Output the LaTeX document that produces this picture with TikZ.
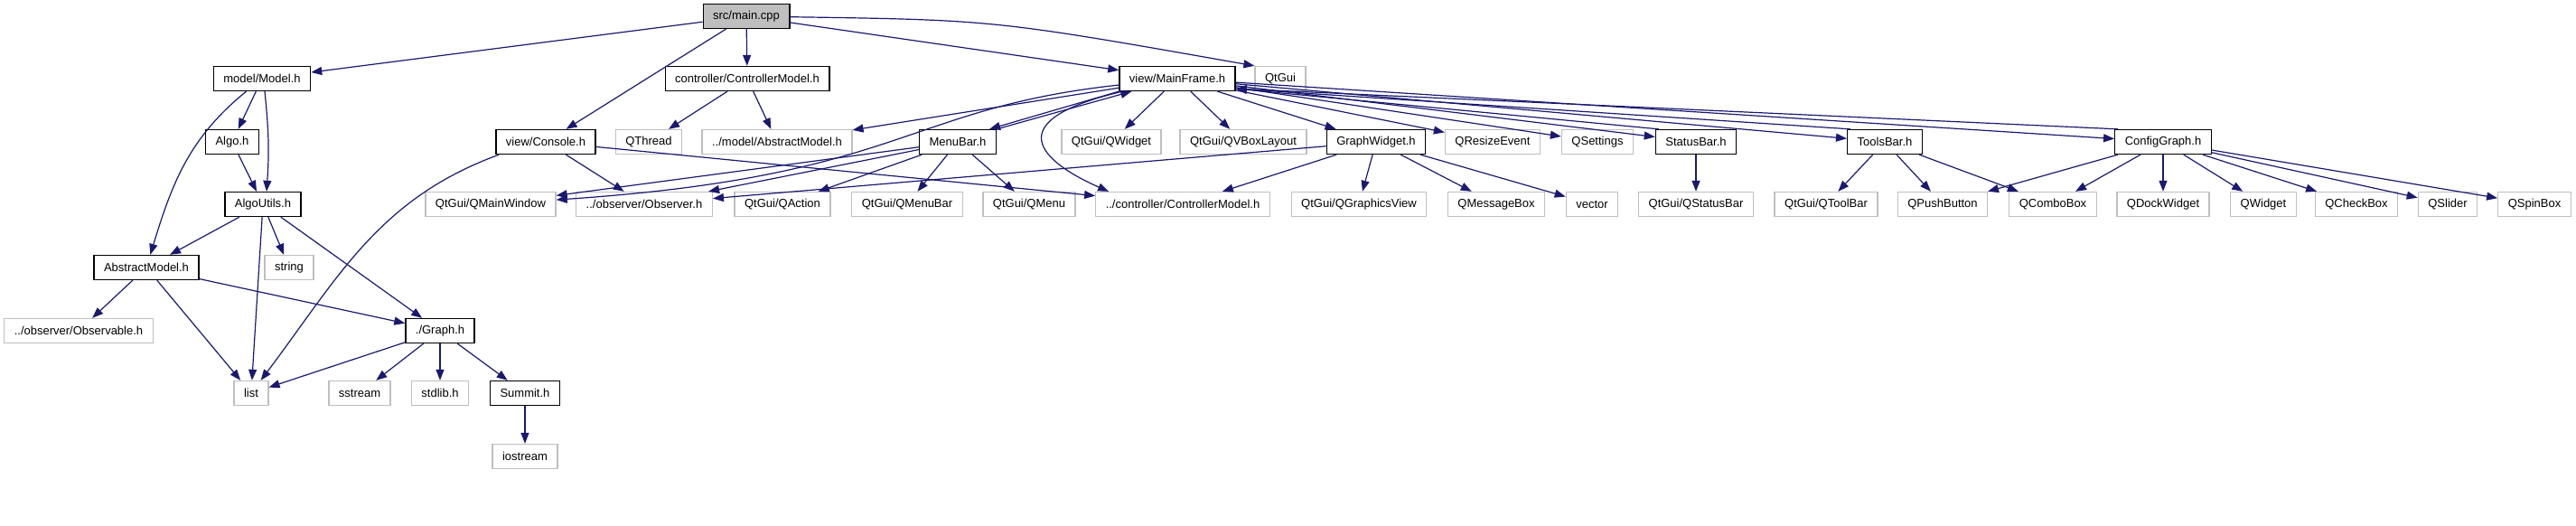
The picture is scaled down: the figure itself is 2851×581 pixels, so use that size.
\documentclass[tikz,border=0pt]{standalone}
\usepackage{fontspec}
\setmainfont{Liberation Sans}
\usetikzlibrary{arrows.meta}
\definecolor{edgeblue}{HTML}{191970}
\definecolor{boxgray}{HTML}{BFBFBF}

\begin{document}
\begin{tikzpicture}[x=1pt,y=1pt,
  hdr/.style={draw=black,line width=1.3pt,inner xsep=11pt,inner ysep=0pt,
    minimum height=27pt,font=\fontsize{13}{15}\selectfont},
  sys/.style={hdr,draw=boxgray},
  root/.style={hdr,fill=boxgray},
  inc/.style={draw=edgeblue,line width=1.2pt,-{Triangle[length=12pt,width=9pt]}}]
  \useasboundingbox (0,0) rectangle (2851,-581);

  % rank 0 and 1
  \node[root] (main) at (826,-18) {src/main.cpp};
  \node[hdr] (model) at (290,-87) {model/Model.h};
  \node[hdr] (ctrl) at (827,-87) {controller/ControllerModel.h};
  \node[hdr] (mainframe) at (1303,-87) {view/MainFrame.h};
  \node[sys] (qtgui) at (1417,-87) {QtGui};

  % rank 2
  \node[hdr] (algo) at (257,-157) {Algo.h};
  \node[hdr] (console) at (604,-157) {view/Console.h};
  \node[sys] (qthread) at (718,-157) {QThread};
  \node[sys] (absmodelb) at (860,-157) {../model/AbstractModel.h};
  \node[hdr] (menubar) at (1060,-157) {MenuBar.h};
  \node[sys] (qwidgeta) at (1230,-157) {QtGui/QWidget};
  \node[sys] (qvbox) at (1376,-157) {QtGui/QVBoxLayout};
  \node[hdr] (graphwidget) at (1523,-157) {GraphWidget.h};
  \node[sys] (qresize) at (1652,-157) {QResizeEvent};
  \node[sys] (qsettings) at (1768,-157) {QSettings};
  \node[hdr] (statusbar) at (1877,-157) {StatusBar.h};
  \node[hdr] (toolsbar) at (2086,-157) {ToolsBar.h};
  \node[hdr] (configgraph) at (2394,-157) {ConfigGraph.h};

  % rank 3
  \node[hdr] (algoutils) at (291,-226) {AlgoUtils.h};
  \node[sys] (qmainwindow) at (543,-226) {QtGui/QMainWindow};
  \node[sys] (observer) at (713,-226) {../observer/Observer.h};
  \node[sys] (qaction) at (866,-226) {QtGui/QAction};
  \node[sys] (qmenubar) at (1004,-226) {QtGui/QMenuBar};
  \node[sys] (qmenu) at (1139,-226) {QtGui/QMenu};
  \node[sys] (ctrlmodelb) at (1309,-226) {../controller/ControllerModel.h};
  \node[sys] (qgraphicsview) at (1504,-226) {QtGui/QGraphicsView};
  \node[sys] (qmessagebox) at (1656,-226) {QMessageBox};
  \node[sys] (vector) at (1762,-226) {vector};
  \node[sys] (qstatusbar) at (1877,-226) {QtGui/QStatusBar};
  \node[sys] (qtoolbar) at (2021,-226) {QtGui/QToolBar};
  \node[sys] (qpushbutton) at (2150,-226) {QPushButton};
  \node[sys] (qcombobox) at (2272,-226) {QComboBox};
  \node[sys] (qdockwidget) at (2394,-226) {QDockWidget};
  \node[sys] (qwidgetb) at (2505,-226) {QWidget};
  \node[sys] (qcheckbox) at (2608,-226) {QCheckBox};
  \node[sys] (qslider) at (2709,-226) {QSlider};
  \node[sys] (qspinbox) at (2805,-226) {QSpinBox};

  % ranks 4 to 7
  \node[hdr] (absmodel) at (162,-296) {AbstractModel.h};
  \node[sys] (string) at (320,-296) {string};
  \node[sys] (observable) at (87,-366) {../observer/Observable.h};
  \node[hdr] (graph) at (487,-366) {./Graph.h};
  \node[sys] (list) at (278,-435) {list};
  \node[sys] (sstream) at (398,-435) {sstream};
  \node[sys] (stdlib) at (487,-435) {stdlib.h};
  \node[hdr] (summit) at (581,-435) {Summit.h};
  \node[sys] (iostream) at (581,-505) {iostream};

  % straight includes
  \foreach \s/\t in {main/model,main/console,main/ctrl,main/mainframe,
      model/algo,algo/algoutils,algoutils/absmodel,algoutils/list,
      algoutils/string,algoutils/graph,absmodel/observable,absmodel/list,
      absmodel/graph,graph/list,graph/sstream,graph/stdlib,graph/summit,
      summit/iostream,ctrl/qthread,ctrl/absmodelb,console/observer,
      console/ctrlmodelb,mainframe/absmodelb,mainframe/qwidgeta,
      mainframe/qvbox,mainframe/graphwidget,mainframe/qresize,
      mainframe/qsettings,mainframe/statusbar,mainframe/toolsbar,
      mainframe/configgraph,menubar/qmainwindow,menubar/observer,
      menubar/qaction,menubar/qmenubar,menubar/qmenu,graphwidget/observer,
      graphwidget/ctrlmodelb,graphwidget/qgraphicsview,
      graphwidget/qmessagebox,graphwidget/vector,statusbar/qstatusbar,
      toolsbar/qtoolbar,toolsbar/qpushbutton,toolsbar/qcombobox,
      configgraph/qpushbutton,configgraph/qcombobox,configgraph/qdockwidget,
      configgraph/qwidgetb,configgraph/qcheckbox,configgraph/qslider,
      configgraph/qspinbox}
    \draw[inc] (\s) -- (\t);

  % back includes into MainFrame
  \draw[inc] (mainframe.south west) -- ([xshift=-8pt]menubar.north east);
  \draw[inc] (menubar.north east) -- ([xshift=14pt]mainframe.south west);
  \foreach \s in {statusbar,toolsbar,configgraph}
    \draw[inc] ([xshift=4pt]\s.north west) -- ([yshift=3pt]mainframe.south east);

  % bent includes
  \draw[inc] (model) to[out=-141,in=73] (absmodel);
  \draw[inc] ([xshift=3pt]model.south) to[out=-84,in=86] ([xshift=4pt]algoutils.north);
  \draw[inc] ([xshift=4pt]console.south west) to[out=200,in=53] (list);
  \draw[inc] (main) .. controls (1100,-22) .. (qtgui.north west);
  \draw[inc] (mainframe) .. controls (1000,-120) and (1000,-195) .. (qmainwindow);
  \draw[inc] (mainframe) .. controls (1089,-137) and (1168,-186) .. ([xshift=15pt]ctrlmodelb.north west);
\end{tikzpicture}
\end{document}
